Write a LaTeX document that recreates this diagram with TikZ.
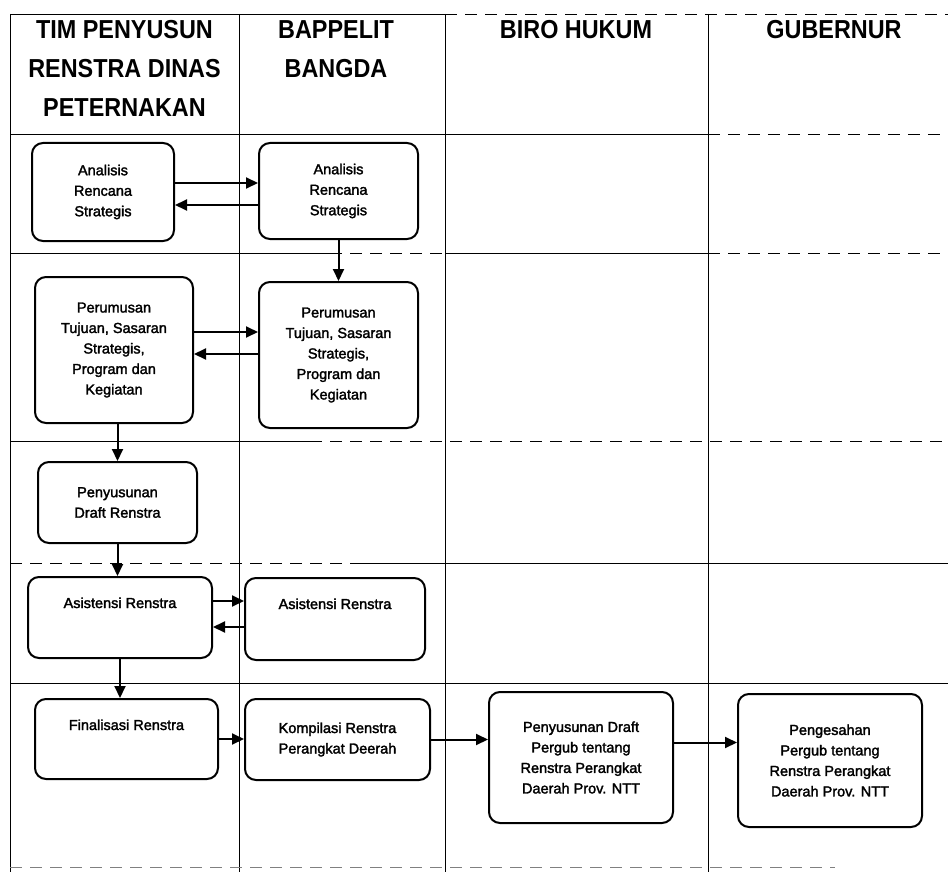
\documentclass[tikz,border=0pt]{standalone}
\usepackage{fontspec}
\setmainfont{Liberation Sans}
\newfontfamily\headfont[FakeStretch=0.9]{Liberation Sans}
\newfontfamily\boxfont[FakeBold=2]{Liberation Sans}
\usetikzlibrary{arrows.meta}

\begin{document}
\begin{tikzpicture}[x=1pt,y=-1pt,
  box/.style={draw,line width=2pt,rounded corners=11pt,align=center,inner sep=2pt,font=\boxfont\fontsize{14.5}{20.5}\selectfont},
  head/.style={align=center,anchor=north,inner sep=0pt,font=\headfont\bfseries\fontsize{26}{39}\selectfont},
  lane/.style={line width=0.7pt},
  gap/.style={lane,dash pattern=on 12pt off 8pt},
  flow/.style={line width=2pt,-{Triangle[length=12pt,width=11pt]}}]
\useasboundingbox (0,0) rectangle (948,872);
\foreach \x in {10,239,445,708} \draw[lane] (\x,14) -- (\x,872);
\draw[lane] (10,14) -- (445,14);
\draw[gap] (445,14) -- (948,14);
\draw[lane] (10,134) -- (708,134);
\draw[gap] (708,134) -- (948,134);
\draw[lane] (10,253) -- (330,253);
\draw[gap] (330,253) -- (445,253);
\draw[lane] (445,253) -- (708,253);
\draw[gap] (708,253) -- (948,253);
\draw[lane] (10,441) -- (310,441);
\draw[gap] (310,441) -- (948,441);
\draw[gap] (10,563) -- (360,563);
\draw[lane] (360,563) -- (948,563);
\draw[lane] (10,683) -- (948,683);
\draw[gap,gray] (10,867) -- (835,867);

\node[head] (tim) at (124.5,20) {TIM PENYUSUN\\RENSTRA DINAS\\PETERNAKAN};
\node[head] (bappelit) at (336,20) {BAPPELIT\\BANGDA};
\node[head] (biro) at (576,20) {BIRO HUKUM};
\node[head] (gubernur) at (834,20) {GUBERNUR};

\node[box,minimum width=142pt,minimum height=98pt] (ana1) at (103,192) {Analisis\\Rencana\\Strategis};
\node[box,minimum width=159pt,minimum height=96pt] (ana2) at (338.5,191) {Analisis\\Rencana\\Strategis};
\node[box,minimum width=158pt,minimum height=146pt] (rum1) at (114,350) {Perumusan\\Tujuan, Sasaran\\Strategis,\\Program dan\\Kegiatan};
\node[box,minimum width=159pt,minimum height=146pt] (rum2) at (338.5,355) {Perumusan\\Tujuan, Sasaran\\Strategis,\\Program dan\\Kegiatan};
\node[box,minimum width=159pt,minimum height=81pt] (draft) at (117.5,502.5) {Penyusunan\\Draft Renstra};
\node[box,minimum width=184pt,text height=29pt,text depth=48pt] (asis1) at (120,617.5) {Asistensi Renstra};
\node[box,minimum width=180pt,text height=29pt,text depth=49pt] (asis2) at (335,619) {Asistensi Renstra};
\node[box,minimum width=183pt,text height=29pt,text depth=47pt] (final) at (126.5,739) {Finalisasi Renstra};
\node[box,minimum width=185pt,minimum height=81pt] (kompil) at (337.5,739.5) {Kompilasi Renstra\\Perangkat Deerah};
\node[box,minimum width=184pt,minimum height=131pt] (pergub) at (581,757.5) {Penyusunan Draft\\Pergub tentang\\Renstra Perangkat\\Daerah Prov. NTT};
\node[box,minimum width=184pt,minimum height=133pt] (sah) at (830,760.5) {Pengesahan\\Pergub tentang\\Renstra Perangkat\\Daerah Prov. NTT};

\draw[flow] ([yshift=9pt]ana1.east) -- ([yshift=9pt]ana1.east -| ana2.west);
\draw[flow] ([yshift=-14pt]ana2.west) -- ([yshift=-14pt]ana2.west -| ana1.east);
\draw[flow] (ana2.south) -- (ana2.south |- rum2.north);
\draw[flow] ([yshift=18pt]rum1.east) -- ([yshift=18pt]rum1.east -| rum2.west);
\draw[flow] ([yshift=1pt]rum2.west) -- ([yshift=1pt]rum2.west -| rum1.east);
\draw[flow] (draft.north |- rum1.south) -- (draft.north);
\draw[flow] (draft.south) -- (draft.south |- asis1.north);
\draw[flow] ([yshift=16.5pt]asis1.east) -- ([yshift=16.5pt]asis1.east -| asis2.west);
\draw[flow] ([yshift=-8pt]asis2.west) -- ([yshift=-8pt]asis2.west -| asis1.east);
\draw[flow] (asis1.south) -- (asis1.south |- final.north);
\draw[flow] (final.east) -- (final.east -| kompil.west);
\draw[flow] (kompil.east) -- (kompil.east -| pergub.west);
\draw[flow] ([yshift=15pt]pergub.east) -- ([yshift=15pt]pergub.east -| sah.west);
\end{tikzpicture}
\end{document}
